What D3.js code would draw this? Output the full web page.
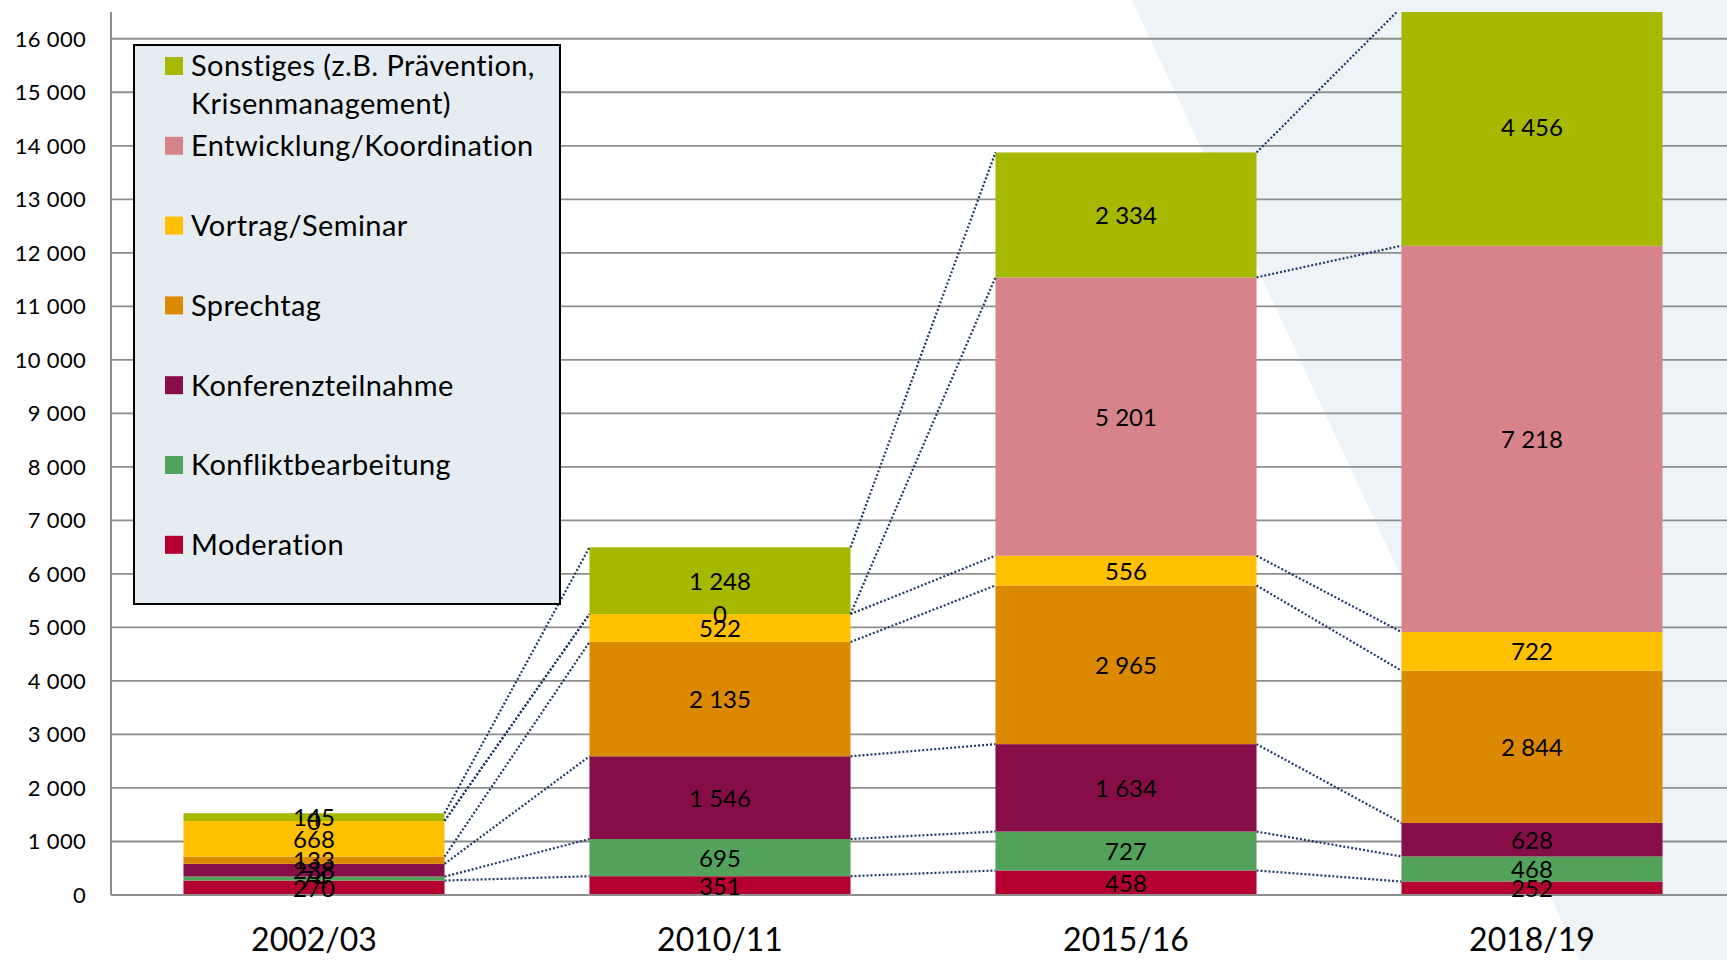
<!DOCTYPE html>
<html>
<head>
<meta charset="utf-8">
<script src="https://cdn.jsdelivr.net/npm/d3@7"></script>
<style>
  html, body { margin: 0; padding: 0; background: #ffffff; }
  svg { display: block; font-family: Lato, "Open Sans", sans-serif; }
</style>
</head>
<body>
<svg id="chart"></svg>
<script>
// categories and series values (bottom to top of the stack)
const categories = ["2002/03", "2010/11", "2015/16", "2018/19"];
const seriesKeys = ["moderation", "konflikt", "konferenz", "sprechtag", "vortrag", "entwicklung", "sonstiges"];
const moderation = [270, 351, 458, 252];
const konflikt = [74, 695, 727, 468];
const konferenz = [238, 1546, 1634, 628];
const sprechtag = [133, 2135, 2965, 2844];
const vortrag = [668, 522, 556, 722];
const entwicklung = [0, 0, 5201, 7218];
const sonstiges = [145, 1248, 2334, 4456];
const yTicks = [0, 1000, 2000, 3000, 4000, 5000, 6000, 7000, 8000, 9000, 10000, 11000, 12000, 13000, 14000, 15000, 16000];

// legend, top to bottom
const legendKeys = ["sonstiges", "entwicklung", "vortrag", "sprechtag", "konferenz", "konflikt", "moderation"];
const legendLabels = [
    ["Sonstiges (z.B. Prävention,", "Krisenmanagement)"],
    ["Entwicklung/Koordination"],
    ["Vortrag/Seminar"],
    ["Sprechtag"],
    ["Konferenzteilnahme"],
    ["Konfliktbearbeitung"],
    ["Moderation"]
];

const colors = {
    moderation: "#b30030",
    konflikt: "#52a25c",
    konferenz: "#860d47",
    sprechtag: "#da8900",
    vortrag: "#ffc000",
    entwicklung: "#d7838a",
    sonstiges: "#a6b800"
};

const width = 1727, height = 960;
const margin = { top: 12, left: 111, bottom: 65 };

const svg = d3.select("#chart")
    .attr("width", width)
    .attr("height", height);

const fmt = d3.formatLocale({ decimal: ",", thousands: " ", grouping: [3], currency: ["", ""] }).format(",d");

// build rows for the stack
const columns = { moderation, konflikt, konferenz, sprechtag, vortrag, entwicklung, sonstiges };
const rows = categories.map((c, i) => {
    let row = { category: c };
    seriesKeys.forEach(k => { row[k] = columns[k][i]; });
    return row;
});
const stacked = d3.stack().keys(seriesKeys)(rows);

let x = d3.scaleBand()
    .domain(categories)
    .range([margin.left, margin.left + 4 * 406])
    .padding(0);
const barWidth = x.bandwidth() * 0.643;

let y = d3.scaleLinear()
    .domain([0, 16500])
    .range([height - margin.bottom, margin.top]);

// light background wedge on the right
svg.append("polygon")
    .attr("points", "1132,0 1727,0 1727,960 1580,960")
    .attr("fill", "#edf3f7");

svg.append("clipPath")
    .attr("id", "plot-clip")
    .append("rect")
    .attr("x", margin.left)
    .attr("y", y(16500))
    .attr("width", width - margin.left)
    .attr("height", y(0) - y(16500));

// gridlines
svg.append("g")
    .selectAll("line")
    .data(yTicks.filter(d => d > 0))
    .enter().append("line")
    .attr("x1", margin.left)
    .attr("x2", width)
    .attr("y1", d => y(d))
    .attr("y2", d => y(d))
    .attr("stroke", "#8e8e8e")
    .attr("stroke-width", 1.8);

// y axis labels
svg.append("g")
    .selectAll("text")
    .data(yTicks)
    .enter().append("text")
    .attr("x", margin.left - 25)
    .attr("y", d => y(d))
    .attr("dy", "0.36em")
    .attr("text-anchor", "end")
    .attr("font-size", 22)
    .attr("letter-spacing", 0.3)
    .attr("fill", "#000")
    .text(d => fmt(d));

const plot = svg.append("g").attr("clip-path", "url(#plot-clip)");

// bars
plot.selectAll("g.series")
    .data(stacked)
    .enter().append("g")
    .attr("class", "series")
    .attr("fill", d => colors[d.key])
    .selectAll("rect")
    .data(d => d)
    .enter().append("rect")
    .attr("x", d => x(d.data.category) + (x.bandwidth() - barWidth) / 2)
    .attr("y", d => y(d[1]))
    .attr("width", barWidth)
    .attr("height", d => y(d[0]) - y(d[1]));

// series lines between bars (dotted)
let seriesLines = [];
stacked.forEach(s => {
    for (let i = 0; i < s.length - 1; i++) {
        seriesLines.push({ from: s[i], to: s[i + 1] });
    }
});
plot.append("g")
    .selectAll("line")
    .data(seriesLines)
    .enter().append("line")
    .attr("x1", d => x(d.from.data.category) + (x.bandwidth() + barWidth) / 2)
    .attr("y1", d => y(d.from[1]))
    .attr("x2", d => x(d.to.data.category) + (x.bandwidth() - barWidth) / 2)
    .attr("y2", d => y(d.to[1]))
    .attr("stroke", "#1f3867")
    .attr("stroke-width", 2.2)
    .attr("stroke-dasharray", "2 2");

// axes lines
svg.append("line")
    .attr("x1", margin.left).attr("x2", width)
    .attr("y1", y(0)).attr("y2", y(0))
    .attr("stroke", "#8e8e8e").attr("stroke-width", 2);
svg.append("line")
    .attr("x1", margin.left).attr("x2", margin.left)
    .attr("y1", y(16500)).attr("y2", y(0))
    .attr("stroke", "#8e8e8e").attr("stroke-width", 2);

// data labels
svg.append("g")
    .selectAll("g")
    .data(stacked)
    .enter().append("g")
    .selectAll("text")
    .data(d => d)
    .enter().append("text")
    .attr("x", d => x(d.data.category) + x.bandwidth() / 2)
    .attr("y", d => y((d[0] + d[1]) / 2))
    .attr("dy", "0.38em")
    .attr("text-anchor", "middle")
    .attr("font-size", 24)
    .attr("fill", "#000")
    .text(d => fmt(d[1] - d[0]));

// x axis labels
svg.append("g")
    .selectAll("text")
    .data(categories)
    .enter().append("text")
    .attr("x", d => x(d) + x.bandwidth() / 2)
    .attr("y", 951)
    .attr("text-anchor", "middle")
    .attr("font-size", 32)
    .attr("fill", "#000")
    .text(d => d);

// legend
const legend = svg.append("g");
legend.append("rect")
    .attr("x", 134).attr("y", 45)
    .attr("width", 426).attr("height", 559)
    .attr("fill", "#e5edf3")
    .attr("stroke", "#000")
    .attr("stroke-width", 2);

const legendItems = legend.selectAll("g.item")
    .data(legendKeys)
    .enter().append("g")
    .attr("class", "item")
    .attr("transform", (d, i) => `translate(165, ${66 + i * 79.8})`);

legendItems.append("rect")
    .attr("x", 0).attr("y", -9)
    .attr("width", 18).attr("height", 18)
    .attr("fill", d => colors[d]);

legendItems.each(function (d, i) {
    let t = d3.select(this).append("text")
        .attr("x", 26)
        .attr("font-size", 29)
        .attr("letter-spacing", 0.4)
        .attr("fill", "#000");
    legendLabels[i].forEach((line, j) => {
        t.append("tspan")
            .attr("x", 26)
            .attr("y", j * 38)
            .attr("dy", "0.36em")
            .text(line);
    });
});
</script>
</body>
</html>
